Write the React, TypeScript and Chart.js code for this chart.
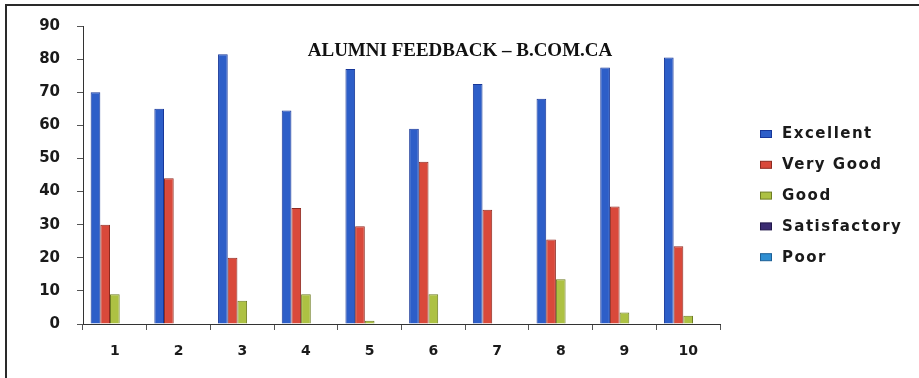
import React, { useEffect, useRef } from "react";
import { Chart, registerables } from "chart.js";

Chart.register(...registerables);

const categories = ["1", "2", "3", "4", "5", "6", "7", "8", "9", "10"];
const seriesNames = ["Excellent", "Very Good", "Good", "Satisfactory", "Poor"];
const excellent = [70, 65, 81.5, 64.5, 77, 59, 72.5, 68, 77.5, 80.5];
const veryGood = [30, 44, 20, 35, 29.5, 49, 34.5, 25.5, 35.5, 23.5];
const good = [9, 0, 7, 9, 1, 9, 0, 13.5, 3.5, 2.5];
const satisfactory = [0, 0, 0, 0, 0, 0, 0, 0, 0, 0];
const poor = [0, 0, 0, 0, 0, 0, 0, 0, 0, 0];
const yMin = 0;
const yMax = 90;
const yStep = 10;
const titleText = "ALUMNI FEEDBACK \u2013 B.COM.CA";

const fills = ["#2d5ec8", "#d9493b", "#adc143", "#3b2c72", "#2f8fd2"];
const borders = ["#173799", "#8e2a20", "#6e7d22", "#21174a", "#1c5f96"];

const titlePlugin = {
  id: "customTitle",
  afterDraw(chart: any) {
    const ctx = chart.ctx;
    ctx.save();
    ctx.font = 'bold 19px "Liberation Serif", "Times New Roman", serif';
    ctx.fillStyle = "#111";
    ctx.textAlign = "center";
    ctx.textBaseline = "middle";
    ctx.fillText(titleText, 460, 51);
    ctx.restore();
  },
};

const legendPlugin = {
  id: "customLegend",
  afterDraw(chart: any) {
    const ctx = chart.ctx;
    ctx.save();
    ctx.font = 'bold 15px "DejaVu Sans", sans-serif';
    (ctx as any).letterSpacing = "1.5px";
    ctx.textAlign = "left";
    ctx.textBaseline = "middle";
    chart.data.datasets.forEach((ds: any, i: number) => {
      const y = 134 + i * 30.8;
      ctx.fillStyle = ds.backgroundColor;
      ctx.fillRect(760, y - 3.5, 12, 7);
      ctx.strokeStyle = ds.borderColor;
      ctx.lineWidth = 1;
      ctx.strokeRect(760.5, y - 3.5, 11, 7);
      ctx.fillStyle = "#1a1a1a";
      ctx.fillText(ds.label, 782, y + 0.5);
    });
    ctx.restore();
  },
};

export default function App() {
  const canvasRef = useRef<HTMLCanvasElement | null>(null);

  useEffect(() => {
    if (!canvasRef.current) return;
    const seriesValues = [excellent, veryGood, good, satisfactory, poor];
    const chart = new Chart(canvasRef.current, {
      type: "bar",
      data: {
        labels: categories,
        datasets: seriesNames.map((name, i) => ({
          label: name,
          data: seriesValues[i],
          backgroundColor: fills[i],
          borderColor: borders[i],
          borderWidth: 1,
          categoryPercentage: 0.76,
          barPercentage: 1,
        })),
      },
      options: {
        animation: false,
        responsive: false,
        layout: { padding: { top: 24, right: 199, bottom: 0, left: 0 } },
        plugins: {
          legend: { display: false },
          title: { display: false },
          tooltip: { enabled: false },
        },
        scales: {
          x: {
            offset: true,
            grid: {
              offset: true,
              drawOnChartArea: false,
              drawTicks: true,
              tickLength: 6,
              color: "#555",
            },
            border: { display: true, color: "#333", width: 1 },
            ticks: {
              font: { family: "DejaVu Sans", size: 14, weight: "bold" },
              color: "#1a1a1a",
              padding: 13,
            },
            afterFit(scale: any) {
              scale.height = 54;
            },
          },
          y: {
            min: yMin,
            max: yMax,
            grid: {
              drawOnChartArea: false,
              drawTicks: true,
              tickLength: 6,
              color: "#555",
            },
            border: { display: true, color: "#333", width: 1 },
            ticks: {
              stepSize: yStep,
              font: { family: "DejaVu Sans", size: 15, weight: "bold" },
              color: "#1a1a1a",
              padding: 17,
            },
            afterFit(scale: any) {
              scale.width = 83;
            },
          },
        },
      },
      plugins: [titlePlugin, legendPlugin],
    });
    return () => chart.destroy();
  }, []);

  return (
    <div style={{ position: "absolute", left: 0, top: 0, width: 919, height: 378, background: "#fff", overflow: "hidden" }}>
      <canvas ref={canvasRef} width={919} height={378} style={{ position: "absolute", left: 0, top: 0 }} />
      <div
        style={{
          position: "absolute",
          left: 5,
          top: 4,
          width: 914,
          height: 374,
          borderTop: "2px solid #2a2a2a",
          borderLeft: "2px solid #2a2a2a",
          boxSizing: "border-box",
          pointerEvents: "none",
        }}
      />
    </div>
  );
}
